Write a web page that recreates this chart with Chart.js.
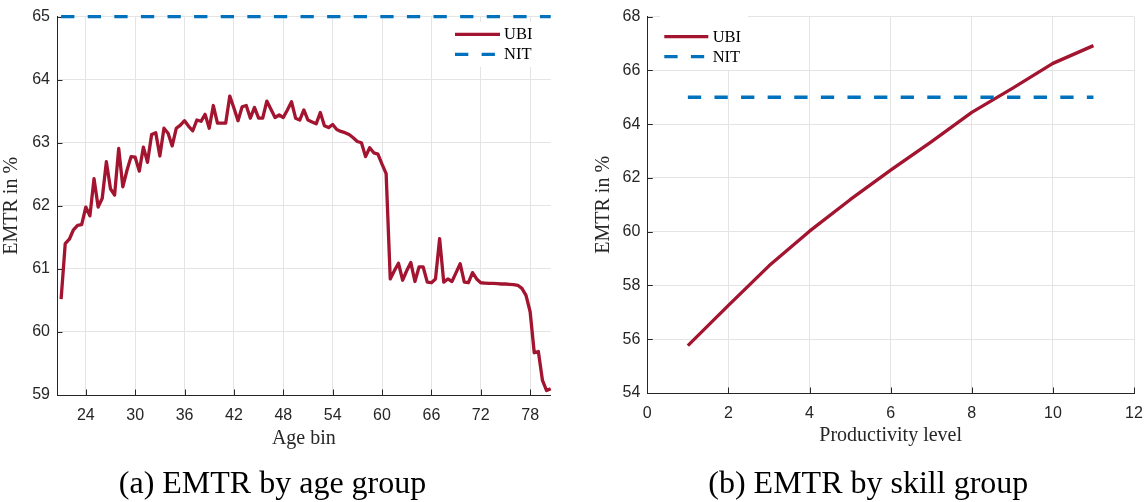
<!DOCTYPE html>
<html>
<head>
<meta charset="utf-8">
<script src="https://cdn.jsdelivr.net/npm/chart.js@4.4.1/dist/chart.umd.min.js"></script>
<style>
html,body{margin:0;padding:0;background:#fff;overflow:hidden;}
#page{position:relative;width:1145px;height:502px;overflow:hidden;background:#fff;}
canvas{position:absolute;top:0;}
#overlay{position:absolute;left:0;top:0;width:1145px;height:502px;pointer-events:none;}
</style>
</head>
<body>
<div id="page">
  <canvas id="c1" width="560" height="455" style="left:0px"></canvas>
  <canvas id="c2" width="553" height="454" style="left:592px"></canvas>
  <svg id="overlay" xmlns="http://www.w3.org/2000/svg" width="1145" height="502"></svg>
</div>
<script>
// ---------------- DATA ----------------
const ageBins = [
  21,21.5,22,22.5,23,23.5,24,24.5,25,25.5,26,26.5,27,27.5,28,28.5,29,29.5,30,30.5,
  31,31.5,32,32.5,33,33.5,34,34.5,35,35.5,36,36.5,37,37.5,38,38.5,39,39.5,40,40.5,
  41,41.5,42,42.5,43,43.5,44,44.5,45,45.5,46,46.5,47,47.5,48,48.5,49,49.5,50,50.5,
  51,51.5,52,52.5,53,53.5,54,54.5,55,55.5,56,56.5,57,57.5,58,58.5,59,59.5,60,60.5,
  61,61.5,62,62.5,63,63.5,64,64.5,65,65.5,66,66.5,67,67.5,68,68.5,69,69.5,70,70.5,
  71,71.5,72,72.5,73,73.5,74,74.5,75,75.5,76,76.5,77,77.5,78,78.5,79,79.5,80,80.5
];
const ubiByAge = [
  60.52,61.40,61.47,61.62,61.69,61.70,61.98,61.84,62.43,61.98,
  62.12,62.70,62.27,62.17,62.91,62.30,62.56,62.78,62.77,62.55,
  62.93,62.69,63.13,63.16,62.79,63.23,63.15,62.95,63.23,63.28,
  63.35,63.26,63.19,63.36,63.34,63.45,63.23,63.59,63.31,63.31,
  63.31,63.74,63.55,63.35,63.57,63.59,63.39,63.56,63.39,63.39,
  63.66,63.53,63.40,63.44,63.40,63.52,63.65,63.39,63.36,63.52,
  63.36,63.33,63.30,63.48,63.27,63.24,63.29,63.21,63.18,63.16,
  63.13,63.08,63.02,63.00,62.78,62.92,62.84,62.82,62.66,62.51,
  60.84,60.97,61.09,60.82,60.97,61.10,60.80,61.03,61.03,60.79,
  60.78,60.84,61.48,60.79,60.84,60.80,60.94,61.08,60.79,60.78,
  60.94,60.84,60.78,60.775,60.77,60.77,60.765,60.76,60.76,60.755,
  60.75,60.74,60.69,60.58,60.32,59.67,59.69,59.23,59.07,59.10
];
const nitAgeX = [21, 80.5];
const nitAgeY = [65, 65];
const ageTicks = [24, 30, 36, 42, 48, 54, 60, 66, 72, 78];

const skillLevels = [1, 2, 3, 4, 5, 6, 7, 8, 9, 10, 11];
const ubiBySkill = [55.76, 57.26, 58.73, 60.02, 61.19, 62.29, 63.34, 64.44, 65.33, 66.26, 66.92];
const nitBySkill = [65, 65, 65, 65, 65, 65, 65, 65, 65, 65, 65];

const seriesNames = ['UBI', 'NIT'];
const captions = ['(a) EMTR by age group', '(b) EMTR by skill group'];

// ---------------- STYLE ----------------
const RED = '#A2142F', BLUE = '#0072BD', AXIS = '#262626', GRID = '#e4e4e4';
const LW = 3.3, DASH = [13.3, 13.3];
const TICKFONT = {family: '"Liberation Sans", Arial, sans-serif', size: 16};
const TITLEFONT = {family: '"Liberation Serif", "Times New Roman", serif', size: 20};
const SERIF = '"Liberation Serif", "Times New Roman", serif';

const inwardTicks = {
  id: 'inwardTicks',
  beforeDatasetsDraw(chart) {
    const {ctx, chartArea: a, scales: {x, y}} = chart;
    ctx.save();
    ctx.strokeStyle = AXIS; ctx.lineWidth = 1;
    ctx.beginPath();
    x.ticks.forEach(t => {
      const px = Math.round(x.getPixelForValue(t.value)) + 0.5;
      ctx.moveTo(px, a.bottom); ctx.lineTo(px, a.bottom - 5.5);
    });
    y.ticks.forEach(t => {
      const py = Math.round(y.getPixelForValue(t.value)) + 0.5;
      ctx.moveTo(a.left, py); ctx.lineTo(a.left + 5.5, py);
    });
    ctx.stroke();
    ctx.restore();
  }
};

function makeScales(o) {
  return {
    x: {
      type: 'linear', min: o.xmin, max: o.xmax,
      afterBuildTicks: o.xticks ? (s => { s.ticks = o.xticks.map(v => ({value: v})); }) : undefined,
      afterFit: s => { s.height = o.xh; s.paddingLeft = 0; s.paddingRight = 0; },
      grid: {color: GRID, lineWidth: 1, drawTicks: false},
      border: {display: true, color: AXIS, width: 1},
      ticks: {stepSize: o.xstep, padding: o.xpad, font: TICKFONT, color: AXIS, maxRotation: 0, autoSkip: false},
      title: {display: true, text: o.xtitle, font: TITLEFONT, color: AXIS, padding: {top: 0, bottom: o.xtpad}}
    },
    y: {
      type: 'linear', min: o.ymin, max: o.ymax,
      afterFit: s => { s.width = o.yw; },
      grid: {color: GRID, lineWidth: 1, drawTicks: false},
      border: {display: true, color: AXIS, width: 1},
      ticks: {stepSize: o.ystep, padding: 7, font: TICKFONT, color: AXIS, autoSkip: false},
      title: {display: true, text: 'EMTR in %', font: TITLEFONT, color: AXIS, padding: {top: 0, bottom: 0}}
    }
  };
}

function ds(label, xs, ys, color, dash, order) {
  return {
    label, data: xs.map((x, i) => ({x, y: ys[i]})),
    borderColor: color, backgroundColor: color, borderWidth: LW,
    borderDash: dash, pointRadius: 0, pointHoverRadius: 0, tension: 0,
    fill: false, borderJoinStyle: 'round', clip: false, order
  };
}

const chart1 = new Chart(document.getElementById('c1'), {
  type: 'line',
  data: {datasets: [
    ds(seriesNames[0], ageBins, ubiByAge, RED, [], 1),
    ds(seriesNames[1], nitAgeX, nitAgeY, BLUE, DASH, 0)
  ]},
  options: {
    responsive: false, animation: false, events: [],
    layout: {padding: {top: 10, right: 9.3, left: 0, bottom: 0}},
    plugins: {legend: {display: false}, tooltip: {enabled: false}},
    scales: makeScales({xmin: 20.5, xmax: 80.5, xticks: ageTicks, xh: 60, xpad: 11, xtpad: 4,
      xtitle: 'Age bin', ymin: 59, ymax: 65, ystep: 1, yw: 57})
  },
  plugins: [inwardTicks]
});

const chart2 = new Chart(document.getElementById('c2'), {
  type: 'line',
  data: {datasets: [
    ds(seriesNames[0], skillLevels, ubiBySkill, RED, [], 1),
    ds(seriesNames[1], skillLevels, nitBySkill, BLUE, DASH, 0)
  ]},
  options: {
    responsive: false, animation: false, events: [],
    layout: {padding: {top: 13.3, right: 11, left: 0, bottom: 0}},
    plugins: {legend: {display: false}, tooltip: {enabled: false}},
    scales: makeScales({xmin: 0, xmax: 12, xstep: 2, xh: 61, xpad: 10.7, xtpad: 6.25,
      xtitle: 'Productivity level', ymin: 54, ymax: 68, ystep: 2, yw: 55.3})
  },
  plugins: [inwardTicks]
});

// ---------------- LEGENDS & CAPTIONS (SVG text) ----------------
const NS = 'http://www.w3.org/2000/svg';
const svg = document.getElementById('overlay');
function el(tag, attrs, text) {
  const e = document.createElementNS(NS, tag);
  for (const k in attrs) e.setAttribute(k, attrs[k]);
  if (text !== undefined) e.textContent = text;
  svg.appendChild(e);
  return e;
}
function legend(chart, box) {
  el('rect', {x: box.x, y: box.y, width: box.w, height: box.h, fill: '#fff'});
  chart.data.datasets.forEach((d, i) => {
    const r = box.rows[i];
    el('line', {x1: box.l0, x2: box.l1, y1: r, y2: r, stroke: d.borderColor,
      'stroke-width': LW, 'stroke-dasharray': (d.borderDash && d.borderDash.length) ? d.borderDash.join(' ') : 'none'});
    el('text', {x: box.tx, y: r + 5, 'font-family': SERIF, 'font-size': 16.5, fill: '#000'}, d.label);
  });
}
legend(chart1, {x: 447, y: 22, w: 102, h: 45, l0: 455, l1: 500, tx: 504, rows: [34.3, 54.3]});
legend(chart2, {x: 660, y: 16, w: 88, h: 54, l0: 664.3, l1: 708.3, tx: 712.7, rows: [36.7, 56.7]});

el('text', {x: 272.5, y: 492.7, 'text-anchor': 'middle', 'font-family': SERIF, 'font-size': 32, fill: '#000'}, captions[0]);
el('text', {x: 868.3, y: 492.7, 'text-anchor': 'middle', 'font-family': SERIF, 'font-size': 32, fill: '#000'}, captions[1]);
</script>
</body>
</html>
